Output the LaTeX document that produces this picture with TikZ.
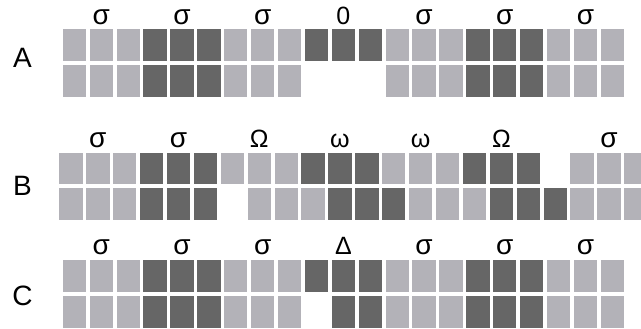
\documentclass[tikz,border=0pt]{standalone}
\usepackage{fontspec}
\setmainfont{Liberation Sans}
\definecolor{lightc}{RGB}{179,178,184}
\definecolor{darkc}{RGB}{102,102,102}
\newcommand{\sg}{{\fontsize{28}{28}\selectfont σ}}
\tikzset{
  cellL/.style={fill=lightc,draw=none,minimum width=23.3pt,minimum height=31.7pt,inner sep=0pt,outer sep=0pt,anchor=north west},
  cellD/.style={cellL,fill=darkc},
  lab/.style={font=\fontsize{25}{25}\selectfont,inner sep=0pt,anchor=base},
  rowlab/.style={font=\fontsize{28}{28}\selectfont,inner sep=0pt,anchor=base}
}
\begin{document}
\begin{tikzpicture}[x=1pt,y=-1pt]
\useasboundingbox (0,0) rectangle (641,329);
\clip (0,0) rectangle (641,329);
% Row A
\foreach \c/\t in {0/L,1/L,2/L,3/D,4/D,5/D,6/L,7/L,8/L,9/D,10/D,11/D,12/L,13/L,14/L,15/D,16/D,17/D,18/L,19/L,20/L}
  \node[cell\t] (At\c) at ({62.7+26.9*\c},29.3) {};
\foreach \c/\t in {0/L,1/L,2/L,3/D,4/D,5/D,6/L,7/L,8/L,12/L,13/L,14/L,15/D,16/D,17/D,18/L,19/L,20/L}
  \node[cell\t] (Ab\c) at ({62.7+26.9*\c},65) {};
% Row B
\foreach \c/\t in {0/L,1/L,2/L,3/D,4/D,5/D,6/L,7/L,8/L,9/D,10/D,11/D,12/L,13/L,14/L,15/D,16/D,17/D,19/L,20/L,21/L}
  \node[cell\t] (Bt\c) at ({59.3+26.9*\c},152.7) {};
\foreach \c/\t in {0/L,1/L,2/L,3/D,4/D,5/D,7/L,8/L,9/L,10/D,11/D,12/D,13/L,14/L,15/L,16/D,17/D,18/D,19/L,20/L,21/L}
  \node[cell\t] (Bb\c) at ({59.3+26.9*\c},188.3) {};
% Row C
\foreach \c/\t in {0/L,1/L,2/L,3/D,4/D,5/D,6/L,7/L,8/L,9/D,10/D,11/D,12/L,13/L,14/L,15/D,16/D,17/D,18/L,19/L,20/L}
  \node[cell\t] (Ct\c) at ({62.7+26.9*\c},260) {};
\foreach \c/\t in {0/L,1/L,2/L,3/D,4/D,5/D,6/L,7/L,8/L,10/D,11/D,12/L,13/L,14/L,15/D,16/D,17/D,18/L,19/L,20/L}
  \node[cell\t] (Cb\c) at ({62.7+26.9*\c},296.3) {};
% labels row A
\foreach \c/\s [count=\i] in {1/\sg,4/\sg,7/\sg,10/0,13/\sg,16/\sg,19/\sg}
  \node[lab] (la\i) at ({62.7+26.9*\c+11.65},25) {\s};
% labels row B
\foreach \c/\s [count=\i] in {1/\sg,4/\sg,7/Ω,10/ω,13/ω,16/Ω,20/\sg}
  \node[lab] (lb\i) at ({59.3+26.9*\c+11.65},148) {\s};
% labels row C
\foreach \c/\s [count=\i] in {1/\sg,4/\sg,7/\sg,10/Δ,13/\sg,16/\sg,19/\sg}
  \node[lab] (lc\i) at ({62.7+26.9*\c+11.65},254) {\s};
% row letters
\node[rowlab] (rA) at (22.5,68) {A};
\node[rowlab] (rB) at (22.5,195) {B};
\node[rowlab] (rC) at (22.5,305) {C};
\end{tikzpicture}
\end{document}
